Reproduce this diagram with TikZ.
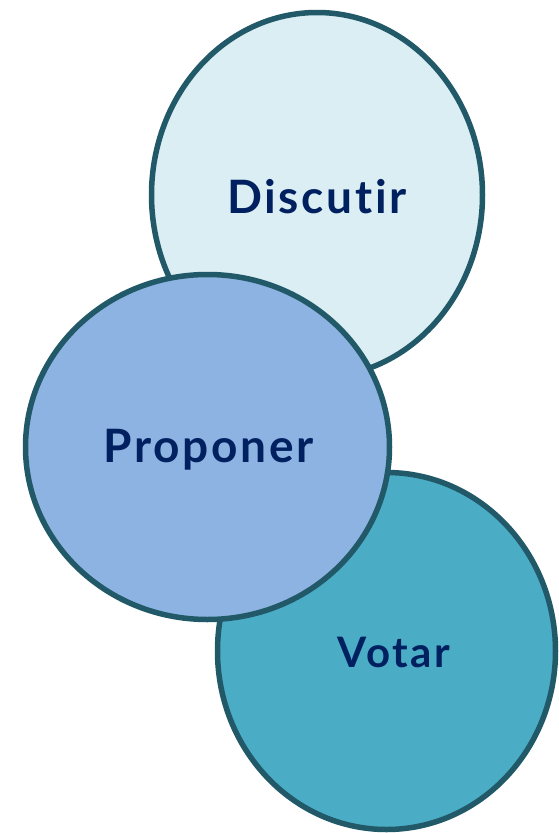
\documentclass[tikz,border=0pt]{standalone}
\usepackage{fontspec}
\setmainfont{Lato}[Ligatures=NoCommon]
\usetikzlibrary{shapes.geometric}
\definecolor{edgec}{HTML}{215968}
\definecolor{txtc}{HTML}{002060}
\definecolor{fillA}{HTML}{DAEEF3}
\definecolor{fillB}{HTML}{8DB3E2}
\definecolor{fillC}{HTML}{4BACC6}
\tikzset{
  bubble/.style={ellipse, draw=edgec, line width=5.5pt, inner sep=0pt},
  biglabel/.style={font=\fontsize{46}{52}\selectfont\bfseries\addfontfeatures{LetterSpace=6,Ligatures=NoCommon}, text=txtc, inner sep=0pt, anchor=base},
  smalllabel/.style={font=\fontsize{42}{48}\selectfont\bfseries\addfontfeatures{LetterSpace=6,Ligatures=NoCommon}, text=txtc, inner sep=0pt, anchor=base}
}
\begin{document}
\begin{tikzpicture}[x=1pt,y=-1pt]
\useasboundingbox (0,0) rectangle (558,833);
\node[bubble, fill=fillA, minimum width=331pt, minimum height=365pt] (disc) at (317,195) {};
\node[bubble, fill=fillC, minimum width=338pt, minimum height=357pt] (vot) at (386.5,651) {};
\node[bubble, fill=fillB, minimum width=364pt, minimum height=345pt] (prop) at (207.5,447) {};
\node[biglabel] (tdisc) at (317,213) {Discutir};
\node[biglabel] (tprop) at (208.5,462) {Proponer};
\node[smalllabel] (tvot) at (394,667) {Votar};
\end{tikzpicture}
\end{document}
